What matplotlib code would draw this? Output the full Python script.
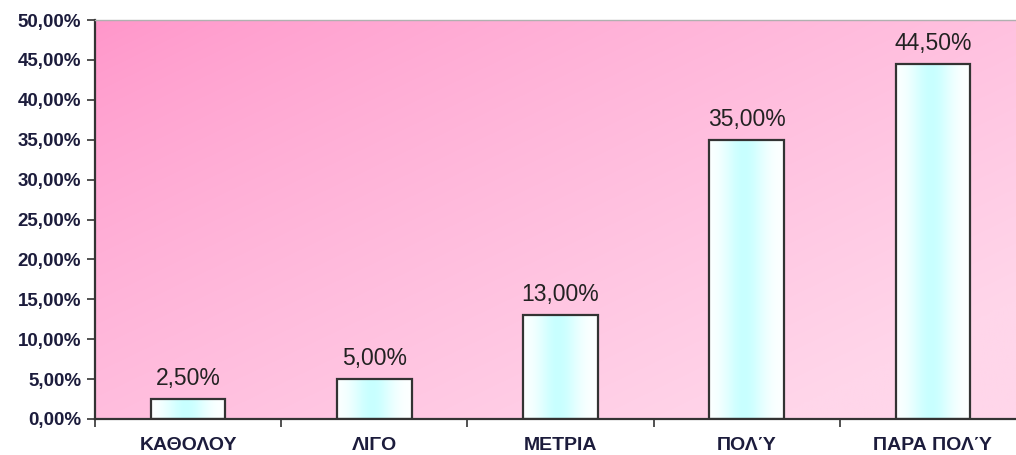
import numpy as np
import matplotlib
matplotlib.use("Agg")
import matplotlib.pyplot as plt
from matplotlib.ticker import MultipleLocator, FuncFormatter

categories = ["ΚΑΘΟΛΟΥ", "ΛΙΓΟ", "ΜΕΤΡΙΑ", "ΠΟΛΎ", "ΠΑΡΑ ΠΟΛΎ"]
values = [2.50, 5.00, 13.00, 35.00, 44.50]
value_labels = ["2,50%", "5,00%", "13,00%", "35,00%", "44,50%"]

plt.rcParams["font.family"] = ["Liberation Sans", "DejaVu Sans"]

W, H, DPI = 1016, 455, 100
fig = plt.figure(figsize=(W / DPI, H / DPI), dpi=DPI)
fig.patch.set_facecolor("white")

left, right, bottom, top = 95, 1026, 36, 435
ax = fig.add_axes([left / W, bottom / H, (right - left) / W, (top - bottom) / H])

n = len(categories)

# diagonal pink gradient for the plotting area
gx, gy = np.meshgrid(np.linspace(0, 1, 300), np.linspace(1, 0, 200))
t = np.clip(0.62 * gx + 0.55 * (1 - gy), 0, 1) ** 0.8
dark = np.array([255, 150, 202]) / 255
light = np.array([255, 214, 234]) / 255
bg = dark[None, None, :] * (1 - t[..., None]) + light[None, None, :] * t[..., None]
ax.imshow(bg, extent=(0, 1, 0, 1), transform=ax.transAxes, aspect="auto",
          zorder=0, interpolation="bilinear")

# bars with a white-cyan-white horizontal gradient
xs = np.arange(n) + 0.5
width = 0.4
u = np.linspace(0, 1, 100)
w = np.exp(-((u - 0.47) / 0.28) ** 2)
white = np.array([1.0, 1.0, 1.0])
cyan = np.array([200, 255, 255]) / 255
bar_grad = (white[None, :] * (1 - w[:, None]) + cyan[None, :] * w[:, None])[None, :, :]

bars = ax.bar(xs, values, width=width, facecolor="none", edgecolor="#333333",
              linewidth=1.6, zorder=3)
for b, v in zip(bars, values):
    x0 = b.get_x()
    ax.imshow(bar_grad, extent=(x0, x0 + width, 0, v), aspect="auto",
              zorder=2, interpolation="bilinear")

for x, v, lab in zip(xs, values, value_labels):
    ax.text(x, v + 1.1, lab, ha="center", va="bottom", fontsize=16.5,
            color="#222222")

ax.set_xlim(0, n)
ax.set_ylim(0, 50)

ax.yaxis.set_major_locator(MultipleLocator(5))
ax.yaxis.set_major_formatter(FuncFormatter(lambda v, p: f"{v:.2f}%".replace(".", ",")))
ax.set_xticks(np.arange(n + 1))
ax.set_xticklabels([])
ax.set_xticks(xs, minor=True)
ax.set_xticklabels(categories, minor=True)
ax.tick_params(axis="x", which="minor", length=0, pad=13)
ax.tick_params(axis="x", which="major", length=6, width=1.2, direction="out", color="#333333")
ax.tick_params(axis="y", length=6, width=1.2, direction="out", color="#333333", pad=4)

for lab in ax.get_yticklabels():
    lab.set_fontsize(13.5)
    lab.set_fontweight("bold")
    lab.set_color("#1c1c3c")
for lab in ax.get_xticklabels(minor=True):
    lab.set_fontsize(14)
    lab.set_fontweight("bold")
    lab.set_color("#1c1c3c")

ax.spines["left"].set_color("#333333")
ax.spines["left"].set_linewidth(1.6)
ax.spines["bottom"].set_color("#333333")
ax.spines["bottom"].set_linewidth(1.6)
ax.spines["top"].set_color("#b0b0b0")
ax.spines["top"].set_linewidth(1.0)
ax.spines["right"].set_visible(False)

fig.savefig("out.png", dpi=DPI)
